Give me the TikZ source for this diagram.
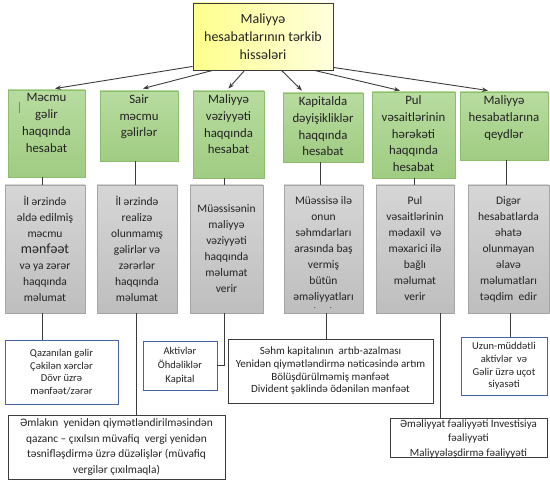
\documentclass[tikz,border=0pt]{standalone}
\usepackage{fontspec}
\setmainfont{Carlito}
\usetikzlibrary{arrows.meta,calc}
\definecolor{grnB}{RGB}{140,190,110}
\definecolor{grnT}{RGB}{184,220,160}
\definecolor{grnD}{RGB}{160,204,130}
\definecolor{gryB}{RGB}{165,165,165}
\definecolor{gryT}{RGB}{214,214,214}
\definecolor{gryD}{RGB}{190,190,190}
\definecolor{ylwL}{RGB}{255,255,140}
\definecolor{ylwR}{RGB}{255,255,222}
\definecolor{bluB}{RGB}{70,100,165}
\definecolor{lineC}{RGB}{60,60,60}
\definecolor{txtC}{RGB}{35,35,35}
\begin{document}
\begin{tikzpicture}[x=1pt,y=-1pt,
  topbox/.style={draw=lineC, line width=0.9pt, left color=ylwL, right color=ylwR, inner sep=0pt, align=center, text=txtC, font=\fontsize{14}{18.3}\selectfont},
  greenbox/.style={draw=grnB, line width=0.9pt, top color=grnT, bottom color=grnD, inner sep=0pt},
  gtext/.style={align=center, inner sep=0pt, anchor=north, text=txtC, font=\fontsize{12.8}{16.7}\selectfont},
  graybox/.style={draw=gryB, line width=0.9pt, top color=gryT, bottom color=gryD, inner sep=0pt, align=center, text=txtC, font=\fontsize{11.5}{16}\selectfont},
  bluebox/.style={draw=bluB, line width=0.9pt, fill=white, inner sep=0pt, align=center, text=txtC, font=\fontsize{10.5}{12.7}\selectfont},
  blkbox/.style={draw=lineC, line width=0.9pt, fill=white, inner sep=0pt, align=center, text=txtC, font=\fontsize{11}{12.7}\selectfont},
  conn/.style={draw=lineC, line width=0.9pt},
  arr/.style={draw=lineC, line width=0.9pt, -{Stealth[length=6pt,width=4.5pt]}}
]
\useasboundingbox (0,0) rectangle (550,481);

% top
\node[topbox, minimum width=140pt, minimum height=67pt] (T) at (263,36.5) {Maliyyə\\hesabatlarının tərkib\\hissələri};

% green row
\node[greenbox, minimum width=77pt, minimum height=87pt] (g1) at (46.5,133.5) {};
\node[greenbox, minimum width=78pt, minimum height=70pt] (g2) at (139,126) {};
\node[greenbox, minimum width=71pt, minimum height=87pt] (g3) at (228.5,134.5) {};
\node[greenbox, minimum width=80pt, minimum height=69pt] (g4) at (323,127.5) {};
\node[greenbox, minimum width=83pt, minimum height=86pt] (g5) at (413.5,135) {};
\node[greenbox, minimum width=88pt, minimum height=68pt] (g6) at (504,126) {};
\node[gtext] (g1t) at ([yshift=-4pt]g1.north) {Məcmu\\gəlir\\haqqında\\hesabat};
\node[gtext] (g2t) at ([yshift=-4pt]g2.north) {Sair\\məcmu\\gəlirlər};
\node[gtext] (g3t) at ([yshift=-4pt]g3.north) {Maliyyə\\vəziyyəti\\haqqında\\hesabat};
\node[gtext] (g4t) at ([yshift=-4pt]g4.north) {Kapitalda\\dəyişikliklər\\haqqında\\hesabat};
\node[gtext] (g5t) at ([yshift=-4pt]g5.north) {Pul\\vəsaitlərinin\\hərəkəti\\haqqında\\hesabat};
\node[gtext] (g6t) at ([yshift=-4pt]g6.north) {Maliyyə\\hesabatlarına\\qeydlər};
\draw[gray, line width=0.8pt] (19,102) -- (19,113);

% arrows
\draw[arr] ([yshift=4pt]T.south west) -- ([xshift=8.5pt,yshift=1pt]g1.north);
\draw[arr] ([xshift=20pt]T.south west) -- ([xshift=4pt,yshift=2pt]g2.north);
\draw[arr] ([xshift=52pt]T.south west) -- ([yshift=2pt]g3.north);
\draw[arr] ([xshift=89pt]T.south west) -- ([xshift=-21pt,yshift=2pt]g4.north);
\draw[arr] ([xshift=122pt]T.south west) -- ([xshift=-13.5pt,yshift=1pt]g5.north);
\draw[arr] ([yshift=3pt]T.south east) -- ([xshift=-16pt,yshift=1pt]g6.north);

% gray row
\node[graybox, minimum width=80pt, minimum height=128pt] (r1) at (45,249) {İl ərzində\\əldə edilmiş\\məcmu\\{\fontsize{14}{16}\selectfont mənfəət}\\və ya zərər\\haqqında\\məlumat};
\node[graybox, minimum width=80pt, minimum height=128pt] (r2) at (137,249) {İl ərzində\\realizə\\olunmamış\\gəlirlər və\\zərərlər\\haqqında\\məlumat};
\node[graybox, minimum width=73pt, minimum height=128pt] (r3) at (226.5,249) {Müəssisənin\\maliyyə\\vəziyyəti\\haqqında\\məlumat\\verir};
\node[graybox, minimum width=79pt, minimum height=128pt] (r4) at (323.5,249) {Müəssisə ilə\\onun\\səhmdarları\\arasında baş\\vermiş\\bütün\\əməliyyatları};
\node[graybox, minimum width=78pt, minimum height=128pt] (r5) at (415,249) {Pul\\vəsaitlərinin\\mədaxil \ və\\məxarici ilə\\bağlı\\məlumat\\verir};
\node[graybox, minimum width=81pt, minimum height=128pt] (r6) at (508.5,249) {Digər\\hesabatlarda\\əhatə\\olunmayan\\əlavə\\məlumatları\\təqdim \ edir};
\node[inner sep=0pt, text=txtC, font=\fontsize{8}{8}\selectfont] (r4d) at (323,308.5) {.\hspace{14pt}.};

% green -> gray
\draw[conn] ([xshift=-4.5pt]g1.south) -- ([xshift=-4.5pt]g1.south |- r1.north);
\draw[conn] ([xshift=-4pt]g2.south) -- ([xshift=-4pt]g2.south |- r2.north);
\draw[conn] ([xshift=-4.5pt]g3.south) -- ([xshift=-4.5pt]g3.south |- r3.north);
\draw[conn] ([xshift=-3pt]g4.south) -- ([xshift=-3pt]g4.south |- r4.north);
\draw[conn] ([xshift=0.5pt]g5.south) -- ([xshift=0.5pt]g5.south |- r5.north);
\draw[conn] ([xshift=2pt]g6.south) -- ([xshift=2pt]g6.south |- r6.north);

% bottom boxes
\node[bluebox, minimum width=113pt, minimum height=64pt] (b1) at (61.5,372) {Qazanılan gəlir\\Çəkilən xərclər\\Dövr üzrə\\mənfəət/zərər};
\node[bluebox, minimum width=74pt, minimum height=49pt, font=\fontsize{10.5}{14}\selectfont] (b2) at (180,365.5) {Aktivlər\\Öhdəliklər\\Kapital};
\node[blkbox, minimum width=205pt, minimum height=64pt] (k1) at (330.5,371) {Səhm kapitalının \ artıb-azalması\\Yenidən qiymətləndirmə nəticəsində artım\\Bölüşdürülməmiş mənfəət\\Divident şəklində ödənilən mənfəət};
\node[bluebox, minimum width=86pt, minimum height=58pt] (b3) at (504,366) {Uzun-müddətli\\aktivlər \ və\\Gəlir üzrə uçot\\siyasəti};
\node[blkbox, minimum width=217pt, minimum height=64pt, font=\fontsize{11.4}{15.5}\selectfont] (k2) at (116.5,447) {Əmlakın \ yenidən qiymətləndirilməsindən\\qazanc – çıxılsın müvafiq \ vergi yenidən\\təsnifləşdirmə üzrə düzəlişlər (müvafiq\\vergilər çıxılmaqla)};
\node[blkbox, minimum width=157pt, minimum height=38pt, font=\fontsize{11}{14.5}\selectfont] (k3) at (468.5,438) {Əməliyyat fəaliyyəti İnvestisiya\\fəaliyyəti\\Maliyyələşdirmə fəaliyyəti};

% gray -> bottom
\draw[conn] ([xshift=-3pt]r1.south) -- ([xshift=-3pt]r1.south |- b1.north);
\draw[conn] ([xshift=-1pt]r2.south) -- ([xshift=-1pt]r2.south |- k2.north);
\draw[conn] ([xshift=-2.5pt]r3.south) |- (b2.east);
\draw[conn] ([xshift=2.5pt]r4.south) -- ([xshift=2.5pt]r4.south |- k1.north);
\draw[conn] ([xshift=25pt]r5.south) -- ([xshift=25pt]r5.south |- k3.north);
\draw[conn] ([xshift=1.5pt]r6.south) -- ([xshift=1.5pt]r6.south |- b3.north);
\end{tikzpicture}
\end{document}
